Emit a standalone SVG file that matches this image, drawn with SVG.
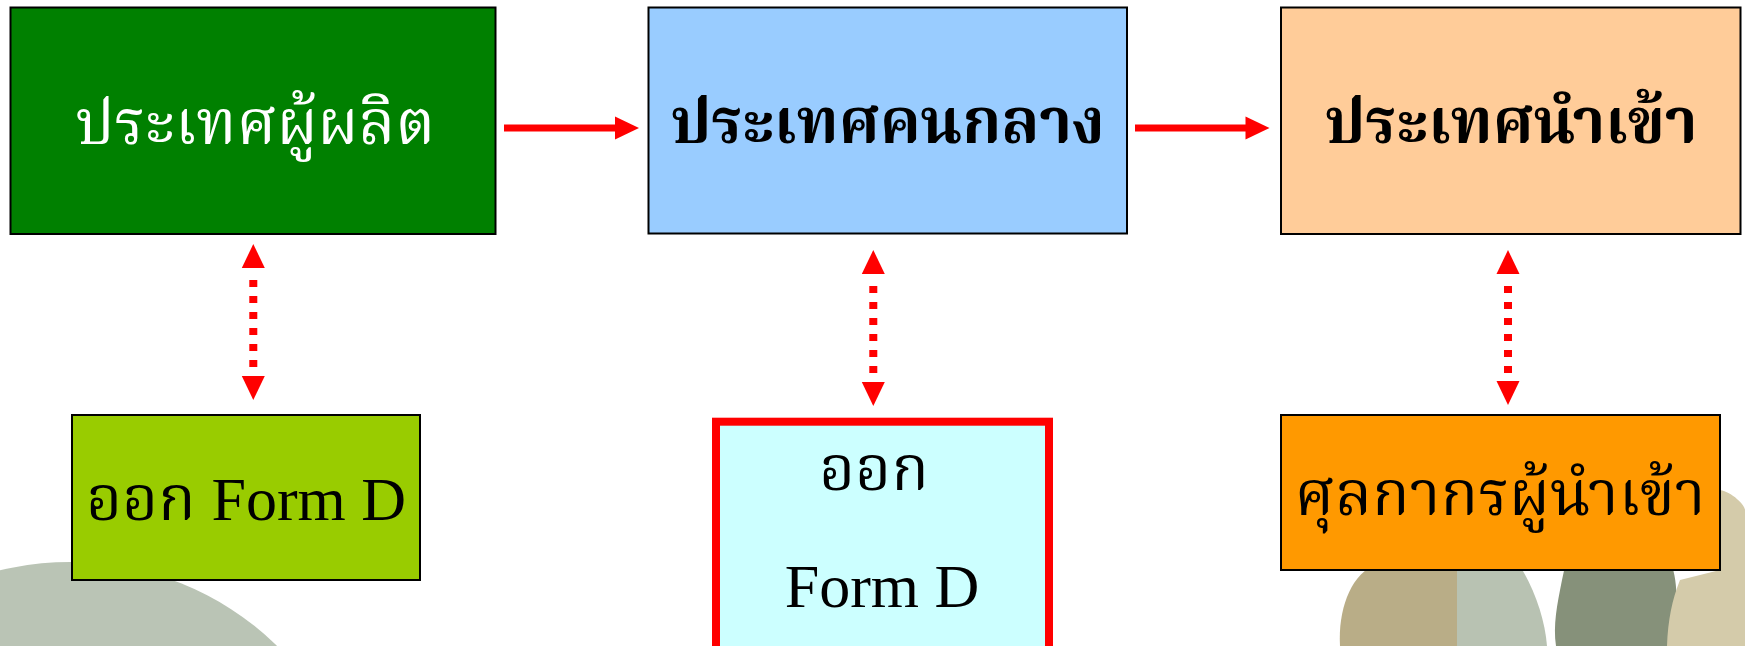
<svg xmlns="http://www.w3.org/2000/svg" xmlns:xlink="http://www.w3.org/1999/xlink" width="1745" height="646" viewBox="0 0 1745 646">
<style>
.box{stroke:#000;stroke-width:2}
.t{font-family:"Liberation Serif","Noto Serif Thai","Noto Sans Thai","DejaVu Sans",serif;font-size:62px;text-anchor:middle}
.b{font-weight:bold}
.conn{stroke:#FF0000;fill:none}
.solid{stroke-width:7}
.dot{stroke-width:8;stroke-dasharray:7 9}
.head{fill:#FF0000}
</style>
<defs>
<path id="ah" d="M0,0 L-24,-11.5 L-24,11.5 Z"/>
</defs>
<g id="background">
<ellipse cx="70" cy="842" rx="290" ry="280" fill="#BAC4B5"/>
<path d="M1340,646 C1338,610 1350,578 1372,566 L1460,566 L1460,646 Z" fill="#B9AD87"/>
<path d="M1457,566 L1520,566 C1535,590 1545,620 1547,646 L1457,646 Z" fill="#B8C2B2"/>
<path d="M1556,646 C1553,625 1557,605 1562,580 L1565,566 L1672,566 C1680,590 1675,620 1676,646 Z" fill="#86917A"/>
<path d="M1667,646 C1668,620 1672,600 1680,580 L1720,570 L1720,490 C1732,492 1745,505 1745,510 L1745,646 Z" fill="#D4CBAA"/>
</g>
<g id="connectors">
<line class="conn solid" x1="504" y1="128" x2="617" y2="128"/>
<use xlink:href="#ah" class="head" transform="translate(639,128)"/>
<line class="conn solid" x1="1135" y1="128" x2="1247" y2="128"/>
<use xlink:href="#ah" class="head" transform="translate(1269.5,128)"/>
<line class="conn dot" x1="253.3" y1="280" x2="253.3" y2="367"/>
<use xlink:href="#ah" class="head" transform="translate(253.3,244) rotate(-90)"/>
<use xlink:href="#ah" class="head" transform="translate(253.3,400) rotate(90)"/>
<line class="conn dot" x1="873.3" y1="286" x2="873.3" y2="373"/>
<use xlink:href="#ah" class="head" transform="translate(873.3,250) rotate(-90)"/>
<use xlink:href="#ah" class="head" transform="translate(873.3,406) rotate(90)"/>
<line class="conn dot" x1="1508" y1="286" x2="1508" y2="373"/>
<use xlink:href="#ah" class="head" transform="translate(1508,250) rotate(-90)"/>
<use xlink:href="#ah" class="head" transform="translate(1508,405) rotate(90)"/>
</g>
<g id="producer">
<rect class="box" x="10.5" y="7.5" width="485" height="226.5" fill="#008000"/>
<text class="t" x="255" y="144" fill="#FFFFFF">ประเทศผู้ผลิต</text>
</g>
<g id="intermediate">
<rect class="box" x="648.5" y="7.5" width="478.5" height="226" fill="#99CCFF"/>
<text class="t b" x="887.5" y="143">ประเทศคนกลาง</text>
</g>
<g id="importer">
<rect class="box" x="1281" y="7.5" width="459.5" height="226.5" fill="#FFCC99"/>
<text class="t b" x="1511" y="143">ประเทศนำเข้า</text>
</g>
<g id="formD1">
<rect class="box" x="72" y="415" width="348" height="165" fill="#99CC00"/>
<text class="t" x="246" y="520">ออก Form D</text>
</g>
<g id="formD2">
<rect x="716" y="421.7" width="333" height="240" fill="#CCFFFF" stroke="#FF0000" stroke-width="8"/>
<text class="t" x="874" y="490">ออก</text>
<text class="t" x="882" y="607">Form D</text>
</g>
<g id="importerCustoms">
<rect class="box" x="1281" y="415" width="439" height="155" fill="#FF9900"/>
<text class="t" x="1500" y="515">ศุลกากรผู้นำเข้า</text>
</g>
</svg>
